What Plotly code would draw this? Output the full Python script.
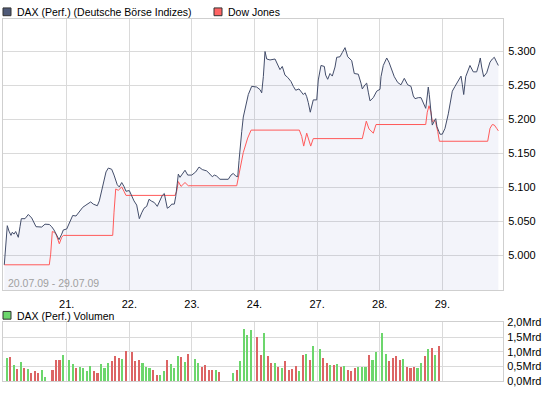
import plotly.graph_objects as go

# ---------------- data ----------------
day_ticks = [1, 2, 3, 4, 5, 6, 7]
day_labels = ['21.', '22.', '23.', '24.', '27.', '28.', '29.']
vol_ticks = [0, 0.5, 1.0, 1.5, 2.0]
vol_labels = ['0,0Mrd', '0,5Mrd', '1,0Mrd', '1,5Mrd', '2,0Mrd']

# x = trading days since 20.07.09 09:00 (1 unit = 1 trading day)
dax_t = [0.003, 0.026, 0.051, 0.078, 0.110, 0.131, 0.158, 0.185, 0.227, 0.254,
         0.275, 0.334, 0.387, 0.441, 0.478, 0.510, 0.601, 0.653, 0.722, 0.760,
         0.797, 0.840, 0.877, 0.920, 0.946, 1.000, 1.053, 1.096, 1.149, 1.201,
         1.256, 1.308, 1.383, 1.425, 1.489, 1.521, 1.548, 1.585, 1.628, 1.665,
         1.719, 1.756, 1.808, 1.840, 1.879, 1.915, 1.947, 2.000, 2.038, 2.075,
         2.118, 2.134, 2.160, 2.198, 2.235, 2.278, 2.315, 2.358, 2.399, 2.447,
         2.527, 2.559, 2.581, 2.607, 2.650, 2.677, 2.719, 2.741, 2.767, 2.783,
         2.810, 2.847, 2.890, 2.933, 2.997, 3.061, 3.114, 3.166, 3.236, 3.289,
         3.326, 3.358, 3.396, 3.449, 3.581, 3.625, 3.661, 3.700, 3.732, 3.753,
         3.768, 3.796, 3.821, 3.875, 3.901, 3.955, 4.035, 4.088, 4.115, 4.141,
         4.168, 4.195, 4.248, 4.328, 4.380, 4.407, 4.444, 4.487, 4.530, 4.583,
         4.620, 4.658, 4.711, 4.743, 4.780, 4.807, 4.834, 4.859, 4.891, 4.939,
         4.994, 5.019, 5.062, 5.115, 5.137, 5.169, 5.206, 5.243, 5.286, 5.313,
         5.366, 5.403, 5.446, 5.489, 5.553, 5.594, 5.658, 5.701, 5.722, 5.765,
         5.792, 5.818, 5.845, 5.898, 5.952, 6.005, 6.021, 6.057, 6.112, 6.148,
         6.192, 6.233, 6.288, 6.340, 6.393, 6.447, 6.500, 6.537, 6.564, 6.617,
         6.660, 6.696, 6.735, 6.760, 6.776, 6.792, 6.819, 6.840, 6.872, 6.895,
         6.915, 6.963, 7.000, 7.043, 7.096, 7.160, 7.203, 7.256, 7.299, 7.321,
         7.342, 7.374, 7.415, 7.442, 7.495, 7.549, 7.586, 7.607, 7.629, 7.661,
         7.709, 7.762, 7.799, 7.831, 7.868, 7.895]
dax_v = [4986.5, 5015.5, 5044.0, 5036.0, 5029.7, 5034.4, 5031.6, 5035.4, 5026.9, 5042.5,
         5054.3, 5054.3, 5060.5, 5055.3, 5048.6, 5042.5, 5042.0, 5046.2, 5045.8, 5042.5,
         5037.7, 5030.6, 5023.5, 5031.6, 5037.7, 5039.1, 5049.6, 5059.0, 5058.2, 5063.9,
         5071.0, 5074.3, 5078.9, 5075.7, 5073.3, 5080.4, 5092.3, 5106.5, 5123.0, 5128.7,
         5126.9, 5118.4, 5104.1, 5100.9, 5107.4, 5101.7, 5094.6, 5095.6, 5087.5, 5080.4,
         5074.3, 5067.6, 5054.3, 5062.9, 5069.6, 5072.4, 5082.8, 5079.9, 5078.1, 5072.4,
         5088.5, 5091.3, 5082.8, 5069.6, 5072.4, 5075.7, 5075.7, 5086.6, 5106.5, 5119.8,
         5115.1, 5120.8, 5125.5, 5118.4, 5118.4, 5123.0, 5130.2, 5126.5, 5124.5, 5119.8,
         5115.9, 5118.4, 5116.9, 5112.2, 5112.2, 5118.4, 5120.8, 5116.9, 5115.9, 5139.7,
         5158.6, 5182.4, 5203.7, 5225.0, 5236.8, 5248.8, 5247.8, 5244.0, 5239.3, 5263.0,
         5300.0, 5289.0, 5287.6, 5289.0, 5277.2, 5273.4, 5278.1, 5265.3, 5262.0, 5255.9,
         5248.8, 5243.1, 5245.0, 5240.3, 5236.8, 5239.3, 5233.6, 5225.0, 5210.8, 5228.9,
         5228.9, 5258.2, 5279.5, 5278.1, 5265.3, 5259.2, 5267.7, 5263.9, 5277.2, 5291.5,
         5292.3, 5298.6, 5305.7, 5292.3, 5286.6, 5267.7, 5266.7, 5253.5, 5245.0, 5251.1,
         5253.5, 5240.3, 5227.5, 5232.2, 5241.7, 5244.5, 5263.0, 5279.5, 5290.5, 5284.4,
         5272.4, 5263.0, 5254.5, 5251.1, 5260.6, 5251.1, 5248.8, 5234.6, 5230.7, 5232.2,
         5232.2, 5225.0, 5216.5, 5234.6, 5247.8, 5236.8, 5210.8, 5191.9, 5197.6, 5201.3,
         5189.5, 5178.5, 5178.5, 5187.1, 5208.4, 5241.7, 5248.8, 5258.2, 5263.9, 5251.1,
         5236.8, 5263.0, 5272.4, 5279.5, 5270.1, 5270.1, 5281.9, 5290.5, 5277.2, 5263.0,
         5268.7, 5284.4, 5289.0, 5291.5, 5284.4, 5279.5]

dow_t = [0.003, 0.722, 0.744, 0.770, 0.797, 0.829, 0.882, 0.920, 0.946, 1.735,
         1.756, 1.783, 1.824, 1.879, 1.915, 1.947, 2.730, 2.757, 2.783, 2.826,
         2.890, 2.942, 3.716, 3.768, 3.821, 3.891, 3.946, 4.716, 4.754, 4.786,
         4.834, 4.898, 4.939, 5.722, 5.754, 5.786, 5.829, 5.898, 5.941, 6.735,
         6.760, 6.788, 6.819, 6.840, 6.872, 6.895, 6.927, 6.953, 7.725, 7.762,
         7.799, 7.831, 7.868, 7.895]
dow_v = [4986.5, 4986.5, 5002.1, 5035.4, 5034.4, 5031.6, 5017.4, 5026.9, 5029.7, 5029.7,
         5063.9, 5098.0, 5096.0, 5100.9, 5094.6, 5088.5, 5088.5, 5094.6, 5108.8, 5101.7,
         5107.4, 5102.7, 5102.7, 5127.9, 5151.5, 5172.8, 5184.5, 5184.5, 5175.3, 5161.0,
         5180.0, 5161.0, 5172.0, 5172.0, 5187.1, 5197.6, 5186.2, 5180.0, 5192.7, 5192.7,
         5210.8, 5220.3, 5210.8, 5196.6, 5199.0, 5195.6, 5182.4, 5168.1, 5168.1, 5187.1,
         5192.7, 5191.9, 5187.1, 5183.4]

# volume in Mrd per half-hour slot (17 slots per trading day), None = no bar
vol_20 = [0.78, 0.81, 0.53, 0.40, 0.63, 0.44, 0.40, 0.27, 0.33, 0.27, 0.37, 0.13, None, 0.37, 0.70, 0.70, 0.87]
vol_21 = [0.70, 0.57, 0.44, 0.47, 0.44, 0.33, 0.50, 0.33, 0.27, 0.57, 0.44, 0.60, 0.67, 0.83, 0.77, 0.73, 1.03]
vol_22 = [0.97, 0.67, 0.70, 0.60, 0.47, 0.43, 0.37, 0.20, 0.20, 0.33, 0.70, 0.57, 0.43, 0.83, 0.80, 0.63, 0.90]
vol_23 = [0.73, 0.60, 0.47, 0.53, 0.37, 0.37, 0.37, 0.30, None, None, None, 0.27, 0.37, 0.67, 1.77, 1.57, 1.73]
vol_24 = [1.50, 0.87, 1.61, 0.83, 0.60, 0.60, 0.47, 0.43, 0.67, 0.37, 0.40, 0.50, 0.33, 0.87, 0.90, 0.70, 1.20]
vol_27 = [1.07, 0.77, 0.60, 0.53, 0.53, 0.57, 0.47, 0.50, 0.37, 0.33, 0.43, 0.47, 0.47, 0.47, 0.87, 0.70, 0.97]
vol_28 = [1.63, 0.90, 0.67, 0.77, 0.83, 0.70, 0.73, 0.47, 0.43, 0.47, 0.43, 0.60, 0.83, 1.07, 1.10, 0.87, 1.17]
vol_29 = [None] * 17
# bar colour per slot: G = up (green), R = down (red), - = none
col_20 = "GRGRGRGRRRGG-RRRG"
col_21 = "GGRGGGGRRGGGRRRGR"
col_22 = "RRRGGGRRGGRGGGRGR"
col_23 = "GGRRRRGR---GRGGGG"
col_24 = "RRGRRGRGRRRRGRGRG"
col_27 = "GRRGRGRGRRRGGGRGG"
col_28 = "GGRRRRGRRRGGRGRGR"
col_29 = "-----------------"

# ---------------- build ----------------
W, H = 545, 395
FONT = "Liberation Sans, Arial, sans-serif"
GREEN, RED = "#6cd66c", "#dc6464"

vol_days = [vol_20, vol_21, vol_22, vol_23, vol_24, vol_27, vol_28, vol_29]
col_days = [col_20, col_21, col_22, col_23, col_24, col_27, col_28, col_29]
bx, by, bc = [], [], []
for d, (vals, cols) in enumerate(zip(vol_days, col_days)):
    for k, (v, c) in enumerate(zip(vals, cols)):
        if v is None:
            continue
        bx.append(d + 0.042 + k * 0.0562)
        by.append(v)
        bc.append(GREEN if c == "G" else RED)

def px(x):
    return x / W

def py(y):
    return 1 - y / H

fig = go.Figure()
fig.add_trace(go.Scatter(x=dax_t, y=dax_v, mode="lines", line=dict(width=0),
                         fill="tozeroy", fillcolor="rgba(135,145,205,0.1)",
                         hoverinfo="skip", showlegend=False))
fig.add_trace(go.Scatter(x=dow_t, y=dow_v, mode="lines",
                         line=dict(color="#ff5a5a", width=1), showlegend=False))
fig.add_trace(go.Scatter(x=dax_t, y=dax_v, mode="lines",
                         line=dict(color="#434d6a", width=1), showlegend=False))
fig.add_trace(go.Bar(x=bx, y=by, marker=dict(color=bc, line=dict(width=0)),
                     width=0.033, xaxis="x2", yaxis="y2", showlegend=False))

xr = [(3 - 4.1) / 62.6, (503 - 4.1) / 62.6]
grid = "#dadada"
border = "#cfcfcf"
common_x = dict(range=xr, tickvals=day_ticks, showgrid=True, gridcolor=grid, gridwidth=1,
                zeroline=False, showline=True, mirror=True, linecolor=border, linewidth=1,
                ticks="", ticklen=0, fixedrange=True)

fig.update_layout(
    width=W, height=H, margin=dict(l=0, r=0, t=0, b=0, pad=0),
    paper_bgcolor="white", plot_bgcolor="white",
    separators=",.",
    font=dict(family=FONT, size=11, color="#000000"),
    bargap=0,
    xaxis=dict(domain=[px(3), px(503)], ticktext=day_labels, anchor="y",
               tickfont=dict(size=11, color="#000"), ticklabelstandoff=4, **common_x),
    yaxis=dict(domain=[py(293), py(13)], range=[4949.3, 5348.4], side="right",
               tickvals=[5000, 5050, 5100, 5150, 5200, 5250, 5300], tickformat=",d",
               showgrid=True, gridcolor=grid, zeroline=False, showline=True, mirror=True,
               linecolor=border, ticks="", ticklen=0, ticklabelstandoff=2, fixedrange=True),
    xaxis2=dict(domain=[px(3), px(503)], showticklabels=False, anchor="y2", **common_x),
    yaxis2=dict(domain=[py(387), py(326.3)], range=[0, 2.0], side="right",
                tickvals=vol_ticks, ticktext=vol_labels,
                showgrid=True, gridcolor=grid, zeroline=False, showline=True, mirror=True,
                linecolor=border, ticks="", ticklen=0, ticklabelstandoff=1, fixedrange=True),
)

# legend squares
def square(x0, y0, color):
    fig.add_shape(type="rect", xref="paper", yref="paper",
                  x0=px(x0), x1=px(x0 + 8), y0=py(y0 + 8), y1=py(y0),
                  fillcolor=color, line=dict(color="#333333", width=1))

def label(x, y, text, color="#000000", size=10.5):
    fig.add_annotation(xref="paper", yref="paper", x=px(x), y=py(y), text=text,
                       showarrow=False, xanchor="left", yanchor="middle",
                       font=dict(family=FONT, size=size, color=color))

square(3, 2, "#4f5a78")
label(15, 6.5, "DAX (Perf.) (Deutsche Börse Indizes)")
square(214, 2, "#ff6464")
label(226, 6.5, "Dow Jones")
square(3, 315, GREEN)
label(15, 319.5, "DAX (Perf.) Volumen")
label(6, 286, "20.07.09 - 29.07.09", color="#a0a0a0")

fig.write_html("out.html", config={"displayModeBar": False},
               post_script="document.body.style.margin='0';document.body.style.overflow='hidden';")
